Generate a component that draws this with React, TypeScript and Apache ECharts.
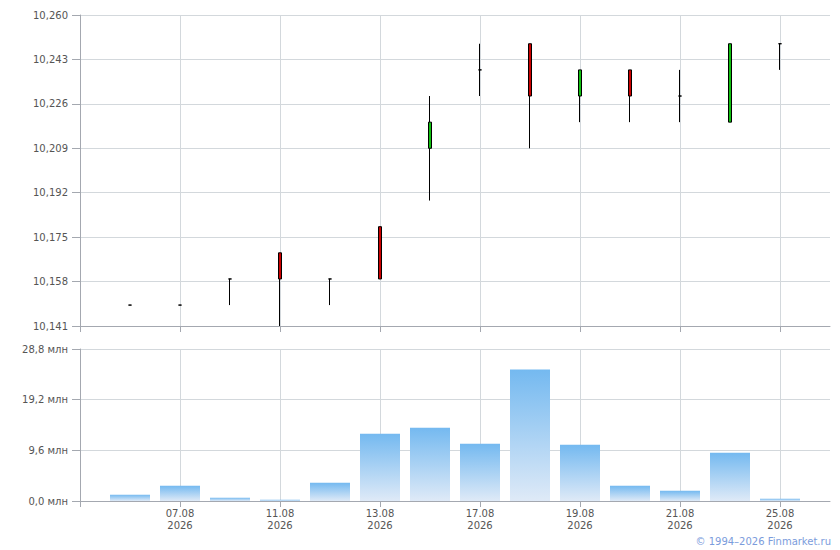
import React, { useEffect, useRef } from 'react';
import * as echarts from 'echarts';

const dates = ['06.08', '07.08', '10.08', '11.08', '12.08', '13.08', '14.08', '17.08', '18.08', '19.08', '20.08', '21.08', '24.08', '25.08'];
const year = '2026';
const opens = [10.149, 10.149, 10.159, 10.169, 10.159, 10.179, 10.209, 10.239, 10.249, 10.229, 10.239, 10.229, 10.219, 10.249];
const closes = [10.149, 10.149, 10.159, 10.159, 10.159, 10.159, 10.219, 10.239, 10.229, 10.239, 10.229, 10.229, 10.249, 10.249];
const lows = [10.149, 10.149, 10.149, 10.141, 10.149, 10.159, 10.189, 10.229, 10.209, 10.219, 10.219, 10.219, 10.219, 10.239];
const highs = [10.149, 10.149, 10.159, 10.169, 10.159, 10.179, 10.229, 10.249, 10.249, 10.239, 10.239, 10.239, 10.249, 10.249];
const volumes = [1.2, 2.9, 0.63, 0.25, 3.45, 12.75, 13.9, 10.85, 24.9, 10.65, 2.9, 1.95, 9.15, 0.44];

const priceMin = 10.141;
const priceMax = 10.26;
const priceStep = 0.017;
const volMax = 28.8;
const volStep = 9.6;
const copyright = '© 1994–2026 Finmarket.ru';

const categories = ['', ...dates, ''];
const isLabelIdx = (i: number) => i >= 2 && i <= 14 && i % 2 === 0;
const isTickIdx = (i: number) => i <= 14 && i % 2 === 0;

const TEXT = '#555555';
const AXIS = '#a4a8b0';
const GRID = '#d3d8dc';
const FONT = 'DejaVu Sans';

export default function App() {
  const ref = useRef<HTMLDivElement>(null);
  useEffect(() => {
    if (!ref.current) return;
    const chart = echarts.init(ref.current, null, { renderer: 'svg' });
    const candleData = dates.map((_, i) => [
      i + 1,
      opens[i] - priceMin,
      closes[i] - priceMin,
      lows[i] - priceMin,
      highs[i] - priceMin,
    ]);
    const volData = volumes.map((v, i) => [i + 1, v]);
    const xCommon = {
      type: 'category' as const,
      data: categories,
      boundaryGap: false,
      axisLine: { show: true, lineStyle: { color: AXIS, width: 1 } },
      axisTick: { show: true, interval: (i: number) => isTickIdx(i), length: 6, lineStyle: { color: AXIS } },
      splitLine: { show: true, interval: (i: number) => isLabelIdx(i), lineStyle: { color: GRID, width: 1 } },
    };
    chart.setOption({
      animation: false,
      textStyle: { fontFamily: FONT, fontSize: 10, color: TEXT },
      grid: [
        { left: 80, top: 15, width: 750, height: 311 },
        { left: 80, top: 349, width: 750, height: 152 },
      ],
      xAxis: [
        { ...xCommon, gridIndex: 0, axisLabel: { show: false } },
        {
          ...xCommon,
          gridIndex: 1,
          axisLabel: {
            show: true,
            interval: (i: number) => isLabelIdx(i),
            formatter: (v: string) => (v ? v + '\n' + year : ''),
            margin: 6,
            lineHeight: 12,
            fontFamily: FONT,
            fontSize: 10,
            color: TEXT,
          },
        },
      ],
      yAxis: [
        {
          type: 'value',
          gridIndex: 0,
          min: 0,
          max: +(priceMax - priceMin).toFixed(3),
          interval: priceStep,
          axisLine: { show: true, lineStyle: { color: AXIS } },
          axisTick: { show: true, length: 8, lineStyle: { color: AXIS } },
          axisLabel: {
            margin: 12,
            fontFamily: FONT,
            fontSize: 10,
            color: TEXT,
            formatter: (v: number) => (priceMin + v).toFixed(3).replace('.', ','),
          },
          splitLine: { show: true, lineStyle: { color: GRID } },
        },
        {
          type: 'value',
          gridIndex: 1,
          min: 0,
          max: volMax,
          interval: volStep,
          axisLine: { show: true, lineStyle: { color: AXIS } },
          axisTick: { show: true, length: 8, lineStyle: { color: AXIS } },
          axisLabel: {
            margin: 12,
            fontFamily: FONT,
            fontSize: 10,
            color: TEXT,
            formatter: (v: number) => v.toFixed(1).replace('.', ',') + ' млн',
          },
          splitLine: { show: true, lineStyle: { color: GRID } },
        },
      ],
      series: [
        {
          type: 'candlestick',
          xAxisIndex: 0,
          yAxisIndex: 0,
          barWidth: 4,
          encode: { x: 0, y: [1, 2, 3, 4] },
          data: candleData,
          itemStyle: {
            color: '#10c010',
            color0: '#cc0000',
            borderColor: '#000000',
            borderColor0: '#000000',
            borderColorDoji: '#000000',
            borderWidth: 1,
          },
        },
        {
          type: 'bar',
          xAxisIndex: 1,
          yAxisIndex: 1,
          barWidth: 40,
          data: volData,
          itemStyle: {
            color: new echarts.graphic.LinearGradient(0, 0, 0, 1, [
              { offset: 0, color: '#74b9f0' },
              { offset: 1, color: '#dfeaf7' },
            ]),
          },
        },
      ],
      graphic: [
        {
          type: 'text',
          right: 9,
          top: 536,
          style: { text: copyright, fill: '#7b9cdc', font: `10px "${FONT}"` },
        },
      ],
    });
    return () => chart.dispose();
  }, []);
  return <div ref={ref} style={{ position: 'absolute', left: 0, top: 0, width: 840, height: 550 }} />;
}
